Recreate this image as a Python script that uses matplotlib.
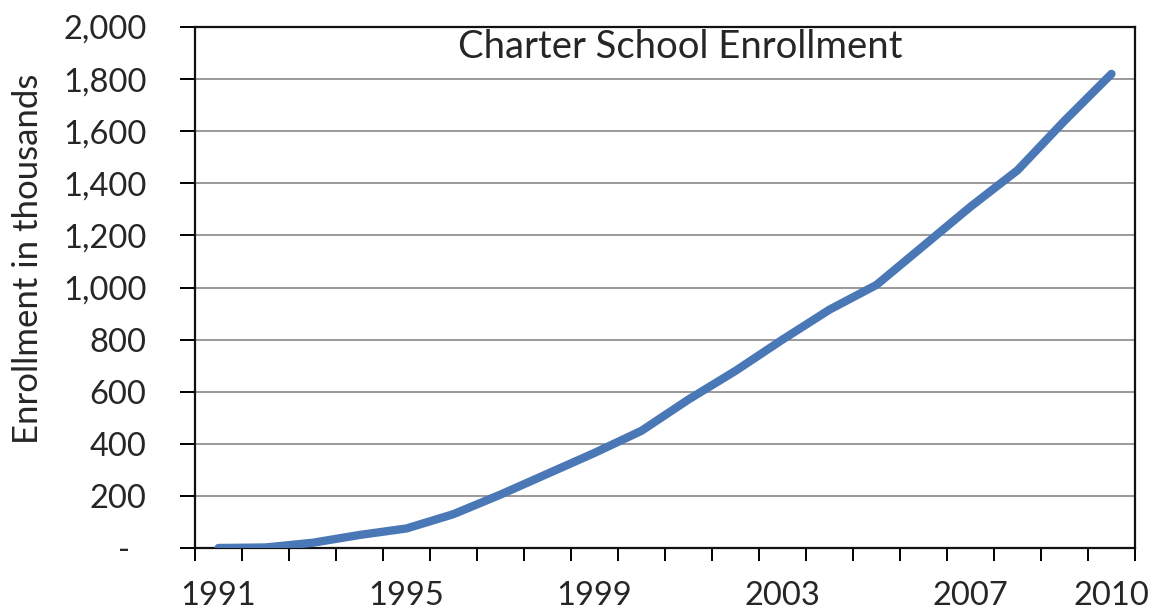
import matplotlib
matplotlib.use("Agg")
import matplotlib.pyplot as plt
import numpy as np

# Charter school enrollment, thousands of students
years = list(range(1991, 2011))
enrollment = [0, 2, 20, 50, 75, 130, 205, 285, 365, 450,
              570, 680, 800, 915, 1010, 1160, 1310, 1450, 1640, 1820]
labeled_years = [1991, 1995, 1999, 2003, 2007, 2010]
y_ticks = [0, 200, 400, 600, 800, 1000, 1200, 1400, 1600, 1800, 2000]

TEXT = "#262626"
plt.rcParams["font.family"] = ["Lato", "DejaVu Sans"]

fig = plt.figure(figsize=(11.53, 6.13), dpi=100)
ax = fig.add_axes([195 / 1153, 1 - 548 / 613, 940 / 1153, 521 / 613])

x = np.arange(len(years))
ax.plot(x, enrollment, color="#4a78b6", linewidth=6, solid_capstyle="round",
        zorder=3)

ax.set_xlim(-0.5, len(years) - 0.5)
ax.set_ylim(0, 2000)

# y axis
ax.set_yticks(y_ticks)
ax.set_yticklabels(["-  " if v == 0 else f"{v:,}" for v in y_ticks])
ax.tick_params(axis="y", direction="out", length=11, width=1.4,
               pad=24, labelsize=23.5, labelcolor=TEXT)
ax.yaxis.grid(True, color="#9a9a9a", linewidth=1.4)
ax.set_axisbelow(True)

# x axis: tick marks between categories, labels on selected years
ax.set_xticks(np.arange(-0.5, len(years), 1.0), minor=True)
ax.set_xticks([years.index(y) for y in labeled_years])
ax.set_xticklabels([str(y) for y in labeled_years])
ax.tick_params(axis="x", which="major", length=0, pad=24, labelsize=23.5,
               labelcolor=TEXT)
ax.tick_params(axis="x", which="minor", direction="out", length=9.5, width=1.4)

for side in ["left", "right", "top", "bottom"]:
    ax.spines[side].set_color("#111111")
    ax.spines[side].set_linewidth(1.6)

ax.set_ylabel("Enrollment in thousands", fontsize=25, color=TEXT)
ax.yaxis.set_label_coords(-0.161, 0.555)

ax.text(0.516, 0.961, "Charter School Enrollment", transform=ax.transAxes,
        ha="center", va="center", fontsize=27.5, color=TEXT)

fig.savefig("out.png", dpi=100, facecolor="white")
